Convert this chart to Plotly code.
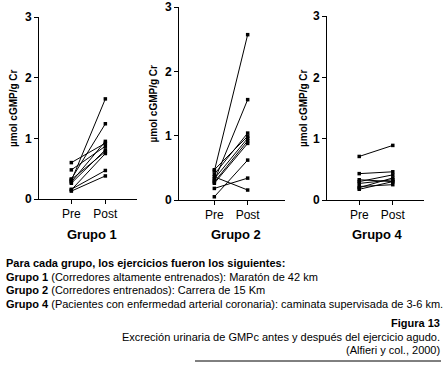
import plotly.graph_objects as go

W, H = 446, 369

conditions = ["Pre", "Post"]
yticks = [0, 1, 2, 3]

g1_pre = [0.60, 0.48, 0.30, 0.33, 0.28, 0.26, 0.32, 0.15, 0.16, 0.13]
g1_post = [0.92, 0.87, 1.65, 1.24, 0.95, 0.81, 0.78, 0.75, 0.47, 0.38]

g2_pre = [0.45, 0.30, 0.40, 0.47, 0.33, 0.28, 0.26, 0.05, 0.18, 0.36]
g2_post = [2.57, 1.56, 1.04, 0.99, 0.96, 0.92, 0.88, 0.62, 0.34, 0.155]

g4_pre = [0.71, 0.43, 0.30, 0.20, 0.27, 0.33, 0.22, 0.175]
g4_post = [0.89, 0.46, 0.41, 0.36, 0.33, 0.30, 0.25, 0.30]

group_names = ["Grupo 1", "Grupo 2", "Grupo 4"]
ytitle = "µmol cGMP/g Cr"


def px_x(p):
    return p / W


def px_y(p):
    return 1 - p / H


panels = [
    (g1_pre, g1_post, 39, 137, 17, 199, [-0.95, 1.93], 13, 92),
    (g2_pre, g2_post, 179, 285, 7, 200, [-1.06, 2.12], 153, 236),
    (g4_pre, g4_post, 327, 424, 16, 200, [-0.96, 1.93], 303, 377),
]

fig = go.Figure()
font_fam = "Arial, Liberation Sans, sans-serif"
annotations = []

for i, (pre, post, xl, xr, yt, yb, xrng, tx, lx) in enumerate(panels):
    n = i + 1
    xa = "x" if n == 1 else f"x{n}"
    ya = "y" if n == 1 else f"y{n}"
    for a, b in zip(pre, post):
        fig.add_trace(go.Scatter(
            x=[0, 1], y=[a, b], mode="lines+markers",
            line=dict(color="black", width=1),
            marker=dict(color="black", size=3.5, symbol="square"),
            xaxis=xa, yaxis=ya, showlegend=False, hoverinfo="skip",
            cliponaxis=False))
    xkey = "xaxis" if n == 1 else f"xaxis{n}"
    ykey = "yaxis" if n == 1 else f"yaxis{n}"
    fig.update_layout(**{
        xkey: dict(domain=[px_x(xl), px_x(xr)], range=xrng, anchor=ya,
                   tickvals=[0, 1], ticktext=conditions, showline=True,
                   linecolor="black", linewidth=1, ticks="outside", ticklen=4,
                   tickcolor="black", showgrid=False, zeroline=False,
                   automargin=False, fixedrange=True,
                   tickfont=dict(family=font_fam, size=12, color="black")),
        ykey: dict(domain=[px_y(yb), px_y(yt)], range=[0, 3], anchor=xa,
                   tickvals=yticks, showline=True, linecolor="black",
                   linewidth=1, ticks="outside", ticklen=4, tickcolor="black",
                   showgrid=False, zeroline=False, automargin=False,
                   fixedrange=True,
                   tickfont=dict(family=font_fam, size=12, color="black",
                                 weight="bold")),
    })
    annotations.append(dict(
        x=px_x(tx), y=px_y((yt + yb) / 2), xref="paper", yref="paper",
        text=f"<b>{ytitle}</b>", textangle=-90, showarrow=False,
        font=dict(family=font_fam, size=10, color="black"),
        xanchor="center", yanchor="middle"))
    annotations.append(dict(
        x=px_x(lx), y=px_y(234), xref="paper", yref="paper",
        text=f"<b>{group_names[i]}</b>", showarrow=False,
        font=dict(family=font_fam, size=13, color="black"),
        xanchor="center", yanchor="middle"))

text_lines = [
    ("<b>Para cada grupo, los ejercicios fueron los siguientes:</b>", 263),
    ("<b>Grupo 1</b> (Corredores altamente entrenados): Maratón de 42 km", 277),
    ("<b>Grupo 2</b> (Corredores entrenados): Carrera de 15 Km", 290),
    ("<b>Grupo 4</b> (Pacientes con enfermedad arterial coronaria): caminata supervisada de 3-6 km.", 304),
]
for t, yp in text_lines:
    annotations.append(dict(
        x=px_x(4), y=px_y(yp), xref="paper", yref="paper", text=t,
        showarrow=False, xanchor="left", yanchor="middle",
        font=dict(family=font_fam, size=11, color="black")))

caption_lines = [
    ("<b>Figura 13</b>", 323),
    ("Excreción urinaria de GMPc antes y después del ejercicio agudo.", 337),
    ("(Alfieri y col., 2000)", 350),
]
for t, yp in caption_lines:
    annotations.append(dict(
        x=px_x(442), y=px_y(yp), xref="paper", yref="paper", text=t,
        showarrow=False, xanchor="right", yanchor="middle",
        font=dict(family=font_fam, size=11, color="black")))

fig.update_layout(
    template="none",
    width=W, height=H, margin=dict(l=0, r=0, t=0, b=0, pad=0),
    paper_bgcolor="white", plot_bgcolor="white",
    annotations=annotations,
    hovermode=False,
    shapes=[dict(type="line", xref="paper", yref="paper",
                 x0=px_x(195), x1=px_x(441), y0=px_y(361), y1=px_y(361),
                 line=dict(color="black", width=1))],
)

fig.write_html(
    "out.html",
    config={"displayModeBar": False, "staticPlot": True},
    post_script="document.body.style.margin='0';document.body.style.overflow='hidden';",
)
